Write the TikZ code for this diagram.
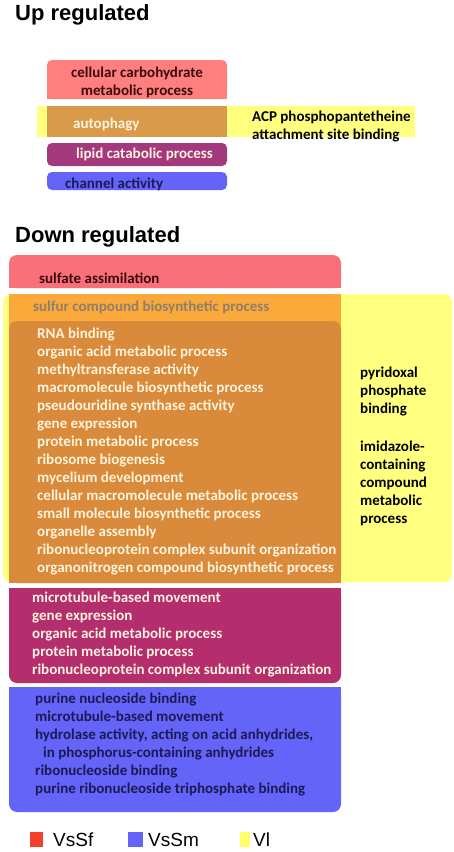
\documentclass[tikz,border=0pt]{standalone}
\usepackage{fontspec}
\setmainfont{Carlito}
\newfontfamily\headfont{Liberation Sans}

\definecolor{upred}{HTML}{FF7F7F}
\definecolor{dnred}{HTML}{F8717A}
\definecolor{viyel}{HTML}{FFFF80}
\definecolor{ltorange}{HTML}{FBA93B}
\definecolor{dkorange}{HTML}{D98B3B}
\definecolor{uporange}{HTML}{DA9A4B}
\definecolor{uppurple}{HTML}{A3387E}
\definecolor{dnpurple}{HTML}{B42D6D}
\definecolor{vsblue}{HTML}{6464F8}
\definecolor{txtred}{HTML}{3C0A0A}
\definecolor{txtblue}{HTML}{1A1A55}
\definecolor{txtcream}{HTML}{FFF3DC}
\definecolor{txtgray}{HTML}{8E7F6C}
\definecolor{legred}{HTML}{F0402A}

% multi-line nodes: base anchor sits on the last line
\tikzset{
  golist/.style={anchor=base west, align=left, inner sep=0pt,
    font=\bfseries\fontsize{15}{18}\selectfont},
  heading/.style={anchor=base west, inner sep=0pt,
    font=\headfont\bfseries\fontsize{22}{24}\selectfont},
  legend/.style={anchor=base west, inner sep=0pt,
    font=\headfont\fontsize{19}{22}\selectfont}
}

\begin{document}
\begin{tikzpicture}[x=1pt, y=-1pt]
  \useasboundingbox (0,0) rectangle (454,852);

  % up regulated
  \node[heading] (uptitle) at (15,20) {Up regulated};
  \fill[upred, rounded corners=5pt] (47,60) rectangle (227,99);
  \fill[upred] (47,90) rectangle (227,99);
  \fill[viyel] (37,106) rectangle (415,137);
  \fill[uporange] (47,106) rectangle (227,137);
  \fill[uppurple, rounded corners=5pt] (47,143) rectangle (227,166);
  \fill[vsblue, rounded corners=5pt] (47,172) rectangle (227,190);
  \node[golist, anchor=base, align=center, text=txtred] (upcarb) at (137,95) {cellular carbohydrate\\metabolic process};
  \node[golist, text=txtcream] (upauto) at (73,128) {autophagy};
  \node[golist, text=black] (upacp) at (252,139) {ACP phosphopantetheine\\attachment site binding};
  \node[golist, text=txtcream] (uplipid) at (76,158) {lipid catabolic process};
  \node[golist, text=txtblue] (upchan) at (65,188) {channel activity};

  % down regulated
  \node[heading] (dntitle) at (15,242) {Down regulated};
  \fill[dnred, rounded corners=8pt] (9,255) rectangle (341,288);
  \fill[dnred] (9,275) rectangle (341,288);
  \fill[viyel, rounded corners=8pt] (3,294) rectangle (452,582);
  \fill[ltorange] (9,294) rectangle (341,583);
  \fill[dkorange, rounded corners=8pt] (9,321) rectangle (341,583);
  \fill[dkorange] (9,560) rectangle (341,583);
  \fill[dnpurple, rounded corners=8pt] (9,588) rectangle (341,683);
  \fill[dnpurple] (9,588) rectangle (341,610);
  \fill[vsblue, rounded corners=8pt] (9,687) rectangle (341,812);
  \fill[vsblue] (9,687) rectangle (341,710);

  \node[golist, text=txtred] (dnsulfate) at (39,283) {sulfate assimilation};
  \node[golist, text=txtgray] (dnsulfur) at (33,311) {sulfur compound biosynthetic process};
  \node[golist, text=txtcream] (dnshared) at (37,572) {RNA binding\\
    organic acid metabolic process\\
    methyltransferase activity\\
    macromolecule biosynthetic process\\
    pseudouridine synthase activity\\
    gene expression\\
    protein metabolic process\\
    ribosome biogenesis\\
    mycelium development\\
    cellular macromolecule metabolic process\\
    small molecule biosynthetic process\\
    organelle assembly\\
    ribonucleoprotein complex subunit organization\\
    organonitrogen compound biosynthetic process};
  \node[golist, text=black] (dnpyri) at (360,413) {pyridoxal\\phosphate\\binding};
  \node[golist, text=black] (dnimid) at (360,523) {imidazole-\\containing\\compound\\metabolic\\process};
  \node[golist, text=txtcream] (dnsm) at (32,674) {microtubule-based movement\\
    gene expression\\
    organic acid metabolic process\\
    protein metabolic process\\
    ribonucleoprotein complex subunit organization};
  \node[golist, text=txtblue] (dnblue) at (35,793) {purine nucleoside binding\\
    microtubule-based movement\\
    hydrolase activity, acting on acid anhydrides,\\
    \hspace{8pt}in phosphorus-containing anhydrides\\
    ribonucleoside binding\\
    purine ribonucleoside triphosphate binding};

  % legend
  \fill[legred] (30,832) rectangle (43,847);
  \node[legend] (legsf) at (53,846) {VsSf};
  \fill[vsblue] (128,832) rectangle (143,847);
  \node[legend] (legsm) at (148,846) {VsSm};
  \fill[viyel!80!yellow] (240,832) rectangle (250,847);
  \node[legend] (legvl) at (253,846) {Vl};
\end{tikzpicture}
\end{document}
